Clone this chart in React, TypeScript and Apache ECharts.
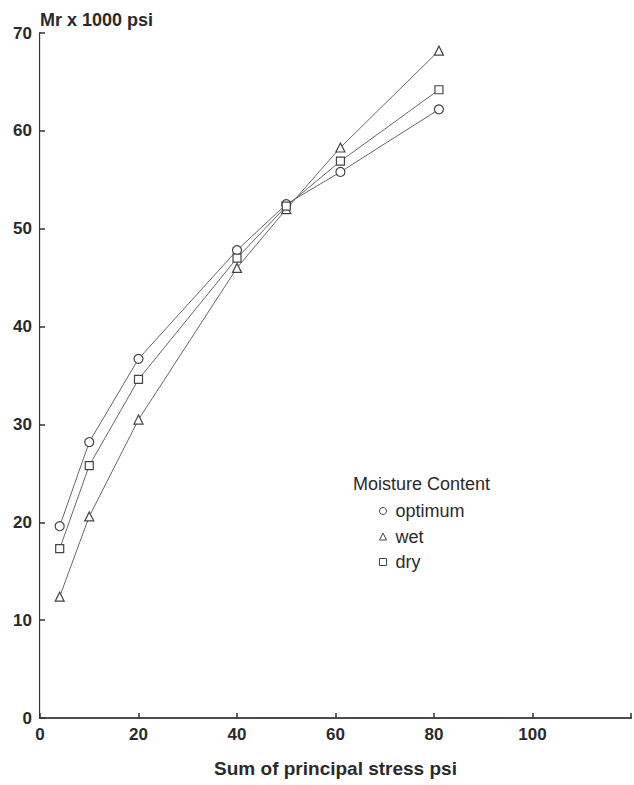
import React, { useEffect, useRef } from "react";
import * as echarts from "echarts";

const stress = [4, 10, 20, 40, 50, 61, 81];
const optimum = [19.6, 28.2, 36.7, 47.8, 52.5, 55.8, 62.2];
const wet = [12.4, 20.6, 30.5, 46.0, 52.0, 58.3, 68.2];
const dry = [17.3, 25.8, 34.6, 47.0, 52.3, 56.9, 64.2];
const seriesNames = ["optimum", "wet", "dry"];
const legendTitle = "Moisture Content";
const xTitle = "Sum of principal stress psi";
const yTitle = "Mr x 1000 psi";

const FONT = "'Liberation Sans', Arial, Helvetica, sans-serif";
const INK = "#2a2a2a";
const LINE = "#666";

export default function App() {
  const ref = useRef<HTMLDivElement>(null);
  useEffect(() => {
    if (!ref.current) return;
    const chart = echarts.init(ref.current, undefined, { renderer: "svg" });
    const mk = (vals: number[]) => stress.map((x, i) => [x, vals[i]]);
    const symbols = ["circle", "triangle", "rect"];
    const sizes = [9, 9, 8];
    const data = [optimum, wet, dry];
    chart.setOption({
      animation: false,
      backgroundColor: "#fff",
      grid: { left: 40, top: 33, right: 1, bottom: 67 },
      legend: {
        orient: "vertical",
        left: 374,
        top: 497,
        itemWidth: 7,
        itemHeight: 7,
        itemGap: 7.5,
        textStyle: {
          fontFamily: FONT,
          fontSize: 18,
          color: INK,
          lineHeight: 18,
          padding: [0, 0, 0, 4],
        },
        data: seriesNames.map((n, i) => ({
          name: n,
          icon: symbols[i],
          itemStyle: { color: "#fff", borderColor: "#444", borderWidth: 1 },
        })),
      },
      graphic: [
        {
          type: "text",
          left: 353,
          top: 475,
          style: { text: legendTitle, fontFamily: FONT, fontSize: 18, lineHeight: 18, fill: INK },
        },
      ],
      xAxis: [
        {
          type: "value",
          min: 0,
          max: 120,
          interval: 20,
          name: xTitle,
          nameLocation: "middle",
          nameGap: 41,
          nameTextStyle: { fontFamily: FONT, fontSize: 19, fontWeight: "bold", color: INK },
          axisLine: { show: true, onZero: false, lineStyle: { color: "#333", width: 2 } },
          axisTick: { show: true, inside: true, length: 5, lineStyle: { color: "#333", width: 1.5 } },
          axisLabel: {
            margin: 8,
            fontFamily: FONT,
            fontSize: 17,
            fontWeight: "bold",
            color: INK,
            formatter: (v: number) => (v >= 120 ? "" : String(v)),
          },
          splitLine: { show: false },
        },
        {
          type: "value",
          position: "top",
          min: 0,
          max: 120,
          axisLine: { show: true, lineStyle: { color: "#555", width: 1.5 } },
          axisTick: { show: false },
          axisLabel: { show: false },
          splitLine: { show: false },
        },
      ],
      yAxis: [
        {
          type: "value",
          min: 0,
          max: 70,
          interval: 10,
          name: yTitle,
          nameLocation: "end",
          nameGap: 4,
          nameTextStyle: {
            fontFamily: FONT,
            fontSize: 18,
            fontWeight: "bold",
            color: INK,
            align: "left",
            verticalAlign: "bottom",
          },
          axisLine: { show: true, onZero: false, lineStyle: { color: "#333", width: 2 } },
          axisTick: { show: true, inside: true, length: 5, lineStyle: { color: "#333", width: 1.5 } },
          axisLabel: { margin: 8, fontFamily: FONT, fontSize: 17, fontWeight: "bold", color: INK },
          splitLine: { show: false },
        },
        {
          type: "value",
          position: "right",
          min: 0,
          max: 70,
          axisLine: { show: true, lineStyle: { color: "#e2e2e2", width: 1 } },
          axisTick: { show: false },
          axisLabel: { show: false },
          splitLine: { show: false },
        },
      ],
      series: seriesNames.map((n, i) => ({
        name: n,
        type: "line",
        data: mk(data[i]),
        symbol: symbols[i],
        symbolSize: sizes[i],
        showSymbol: true,
        lineStyle: { color: LINE, width: 1 },
        itemStyle: { color: "#fff", borderColor: "#444", borderWidth: 1.2 },
        emphasis: { disabled: true },
        z: 3,
      })),
    });
    return () => chart.dispose();
  }, []);
  return <div ref={ref} style={{ width: 634, height: 785, position: "absolute", left: 0, top: 0 }} />;
}
